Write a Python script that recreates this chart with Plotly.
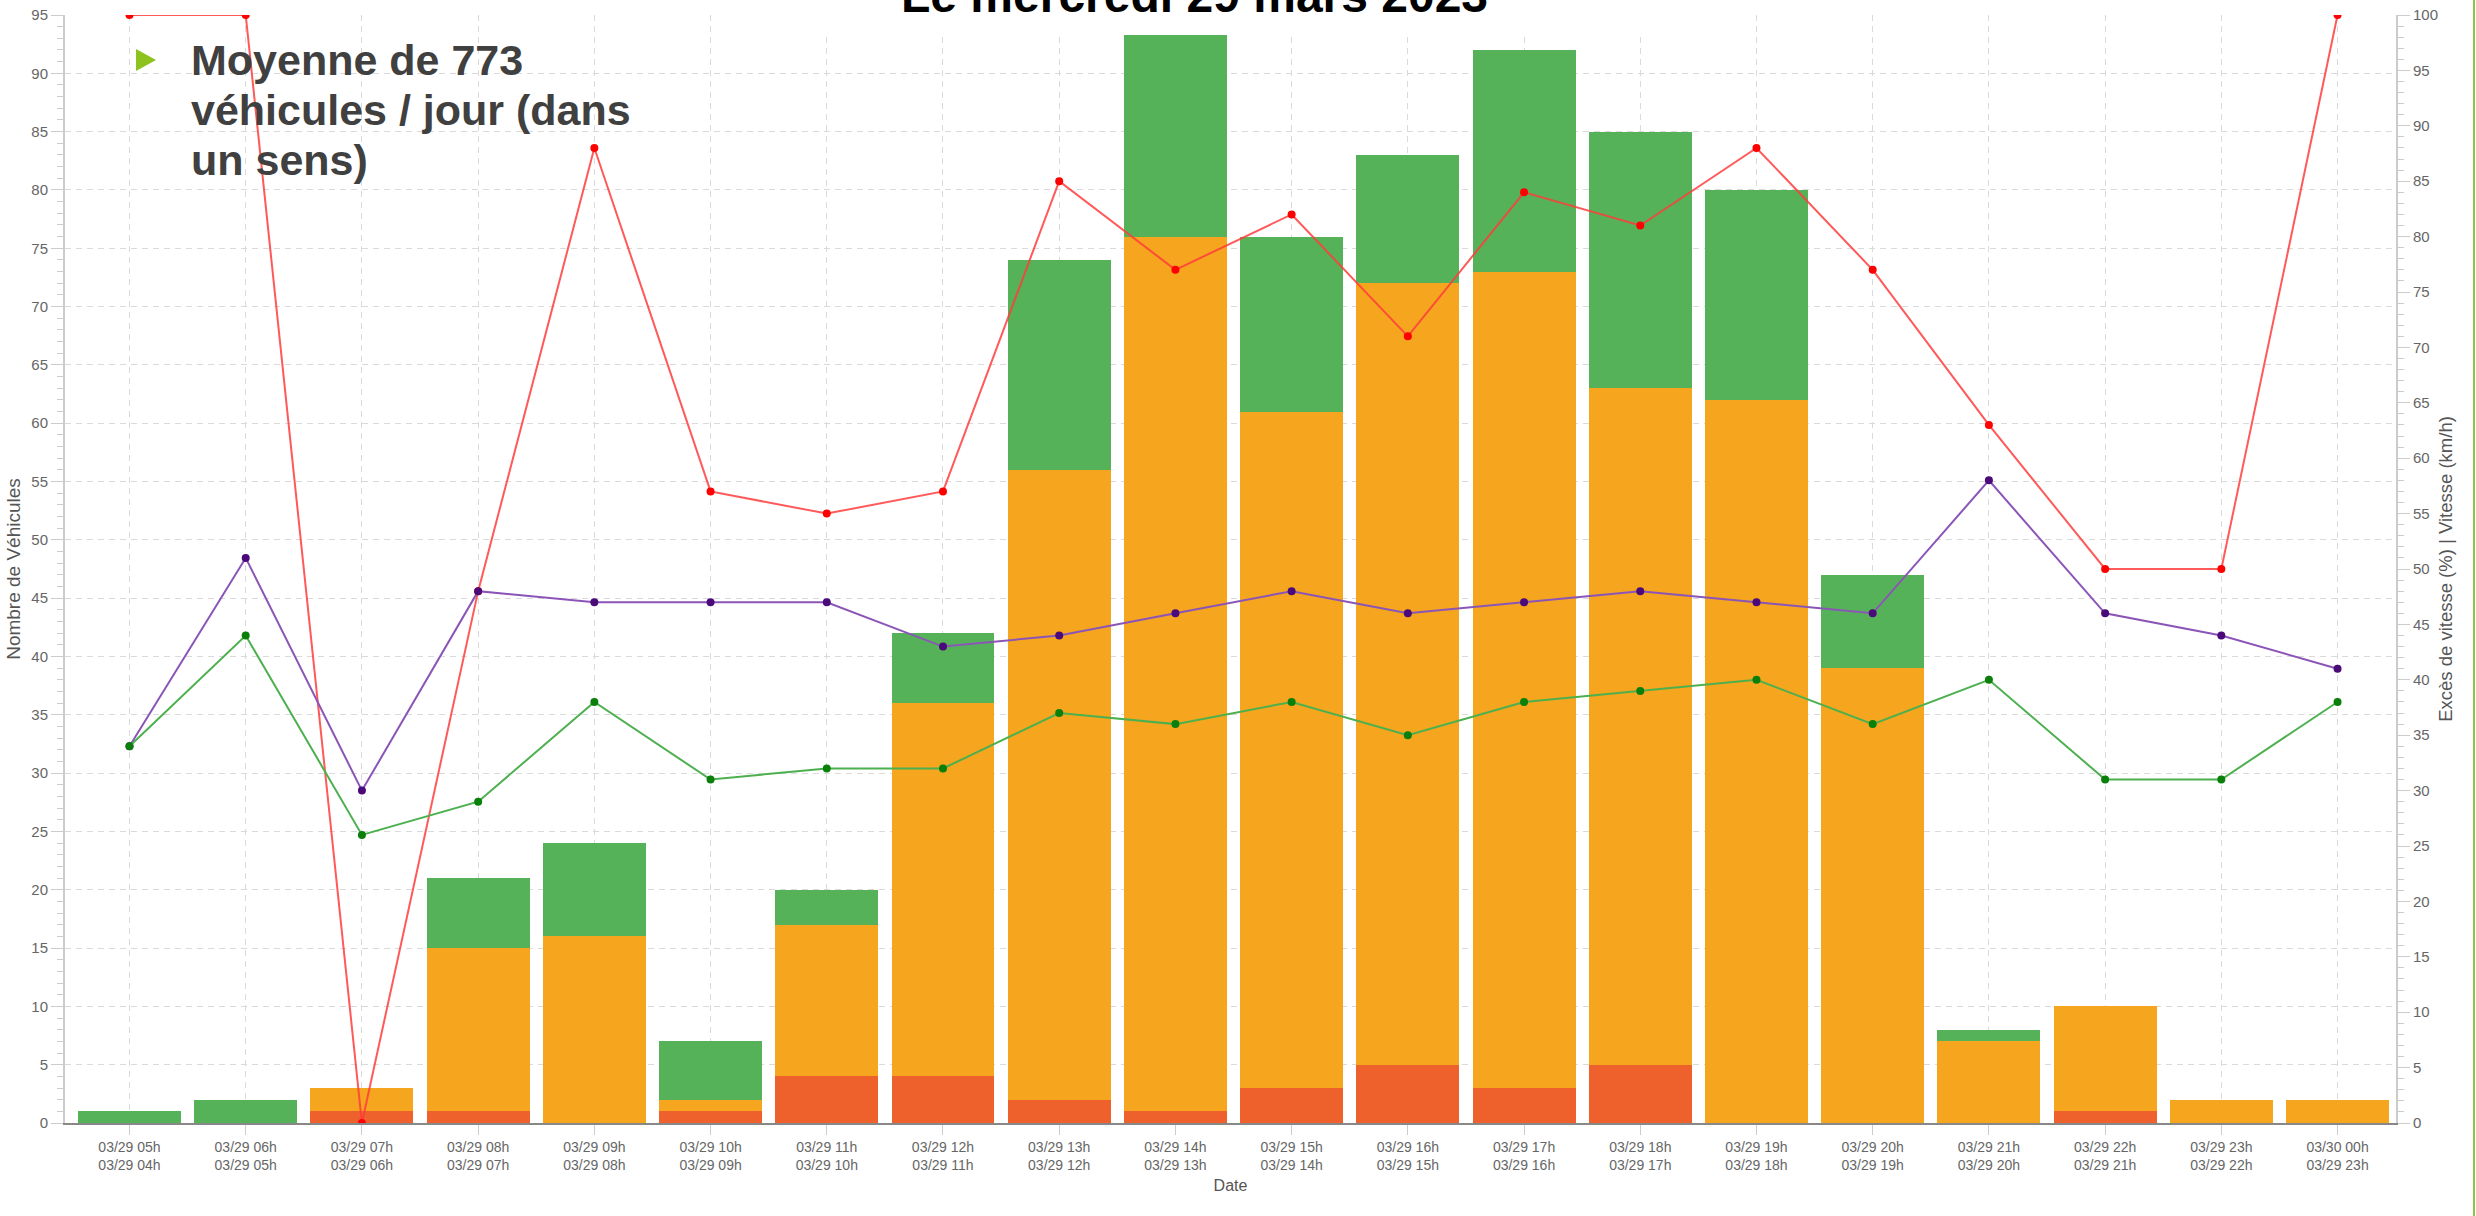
import plotly.graph_objects as go

# ---------------- data ----------------
categories = ["03/29 05h<br>03/29 04h", "03/29 06h<br>03/29 05h", "03/29 07h<br>03/29 06h",
              "03/29 08h<br>03/29 07h", "03/29 09h<br>03/29 08h", "03/29 10h<br>03/29 09h",
              "03/29 11h<br>03/29 10h", "03/29 12h<br>03/29 11h", "03/29 13h<br>03/29 12h",
              "03/29 14h<br>03/29 13h", "03/29 15h<br>03/29 14h", "03/29 16h<br>03/29 15h",
              "03/29 17h<br>03/29 16h", "03/29 18h<br>03/29 17h", "03/29 19h<br>03/29 18h",
              "03/29 20h<br>03/29 19h", "03/29 21h<br>03/29 20h", "03/29 22h<br>03/29 21h",
              "03/29 23h<br>03/29 22h", "03/30 00h<br>03/29 23h"]

count_red = [0, 0, 1, 1, 0, 1, 4, 4, 2, 1, 3, 5, 3, 5, 0, 0, 0, 1, 0, 0]
count_orange = [0, 0, 2, 14, 16, 1, 13, 32, 54, 75, 58, 67, 70, 58, 62, 39, 7, 9, 2, 2]
count_green = [1, 2, 0, 6, 8, 5, 3, 6, 18, 18, 15, 11, 19, 22, 18, 8, 1, 0, 0, 0]

excess_pct = [100, 100, 0, 48, 88, 57, 55, 57, 85, 77, 82, 71, 84, 81, 88, 77, 63, 50, 50, 100]
speed_v85 = [34, 51, 30, 48, 47, 47, 47, 43, 44, 46, 48, 46, 47, 48, 47, 46, 58, 46, 44, 41]
speed_mean = [34, 44, 26, 29, 38, 31, 32, 32, 37, 36, 38, 35, 38, 39, 40, 36, 40, 31, 31, 38]

title_text = "Le mercredi 29 mars 2023"
note_lines = ["Moyenne de 773", "véhicules / jour (dans", "un sens)"]

# ---------------- layout geometry (pixels) ----------------
W, H = 2476, 1216
L, R, T, B = 65, 80, 15, 93
PW, PH = W - L - R, H - T - B


def px(x):
    return (x - L) / PW


def py(y):
    return (H - B - y) / PH


AX_FONT = "Liberation Sans Narrow, Liberation Sans, Arial, sans-serif"
BOLD_FONT = "Liberation Sans, Arial, sans-serif"

fig = go.Figure()

fig.add_trace(go.Bar(x=categories, y=count_red, marker=dict(color="#EE602C", line=dict(width=0)),
                     name="Excès", showlegend=False))
fig.add_trace(go.Bar(x=categories, y=count_orange, marker=dict(color="#F5A51E", line=dict(width=0)),
                     name="Moyen", showlegend=False))
fig.add_trace(go.Bar(x=categories, y=count_green, marker=dict(color="#56B258", line=dict(width=0)),
                     name="Lent", showlegend=False))

fig.add_trace(go.Scatter(x=categories, y=excess_pct, yaxis="y2", mode="lines+markers",
                         line=dict(color="rgba(255,60,60,0.85)", width=2),
                         marker=dict(color="#FF0000", size=8), showlegend=False))
fig.add_trace(go.Scatter(x=categories, y=speed_v85, yaxis="y2", mode="lines+markers",
                         line=dict(color="#8B55B8", width=2),
                         marker=dict(color="#4B0A7A", size=8), showlegend=False))
fig.add_trace(go.Scatter(x=categories, y=speed_mean, yaxis="y2", mode="lines+markers",
                         line=dict(color="#4DB04F", width=2),
                         marker=dict(color="#0A7F0A", size=8), showlegend=False))

tickfont = dict(family=AX_FONT, size=15, color="#666666")

fig.update_layout(
    width=W, height=H, autosize=False,
    margin=dict(l=L, r=R, t=T, b=B, pad=0, autoexpand=False),
    paper_bgcolor="white", plot_bgcolor="white",
    barmode="stack", bargap=0.114,
    showlegend=False,
    xaxis=dict(
        type="category", range=[-0.555, 19.503], automargin=False,
        showgrid=True, gridcolor="#DADADA", griddash="6px,5px", gridwidth=1,
        ticks="outside", ticklen=10, tickcolor="#CCCCCC",
        showline=True, linecolor="#888888", linewidth=2,
        tickfont=dict(family=AX_FONT, size=14, color="#666666"),
        title=dict(text="Date", font=dict(family=AX_FONT, size=16, color="#555555"), standoff=8),
        zeroline=False,
    ),
    yaxis=dict(
        range=[0, 95], dtick=5, tick0=0, automargin=False,
        showgrid=True, gridcolor="#DADADA", griddash="6px,5px", gridwidth=1,
        ticks="outside", ticklen=12, tickcolor="#CCCCCC",
        showline=True, linecolor="#CCCCCC", linewidth=2,
        minor=dict(dtick=1, ticks="outside", ticklen=6, tickcolor="#CCCCCC", showgrid=False),
        tickfont=tickfont,
        title=dict(text="Nombre de Véhicules", font=dict(family=AX_FONT, size=19, color="#555555"), standoff=6),
        zeroline=False,
    ),
    yaxis2=dict(
        overlaying="y", side="right", range=[0, 100], dtick=5, tick0=0, automargin=False,
        showgrid=False,
        ticks="outside", ticklen=12, tickcolor="#CCCCCC",
        showline=True, linecolor="#CCCCCC", linewidth=2,
        minor=dict(dtick=1, ticks="outside", ticklen=6, tickcolor="#CCCCCC", showgrid=False),
        tickfont=tickfont,
        title=dict(text="Excès de vitesse (%) | Vitesse (km/h)",
                   font=dict(family=AX_FONT, size=18.5, color="#555555"), standoff=2),
        zeroline=False,
    ),
)

shapes = []
# white box behind the title (covers the top of the plot)
shapes.append(dict(type="rect", xref="paper", yref="paper", x0=px(719), x1=px(1669), y0=py(35), y1=py(-5),
                   fillcolor="white", line=dict(width=0), layer="above"))
# green bullet triangle
shapes.append(dict(type="path", xref="paper", yref="paper",
                   path=f"M {px(136)},{py(49)} L {px(136)},{py(71)} L {px(156)},{py(60)} Z",
                   fillcolor="#8DC21F", line=dict(width=0), layer="above"))
# slide border line on the right
shapes.append(dict(type="line", xref="paper", yref="paper", x0=px(2474), x1=px(2474), y0=py(H), y1=py(0),
                   line=dict(color="#8DC63F", width=2), layer="above"))
fig.update_layout(shapes=shapes)

annotations = [dict(text=f"<b>{title_text}</b>", xref="paper", yref="paper", x=px(1194), y=py(-4),
                    xanchor="center", yanchor="middle", showarrow=False,
                    font=dict(family=BOLD_FONT, size=48, color="#000000"))]
for i, line in enumerate(note_lines):
    annotations.append(dict(text=f"<b>{line}</b>", xref="paper", yref="paper", x=px(189), y=py(60 + 50 * i),
                            xanchor="left", yanchor="middle", showarrow=False,
                            font=dict(family=BOLD_FONT, size=43, color="#404040")))
fig.update_layout(annotations=annotations)

fig.write_html("out.html", config={"displayModeBar": False},
               post_script="document.body.style.margin='0px';")
